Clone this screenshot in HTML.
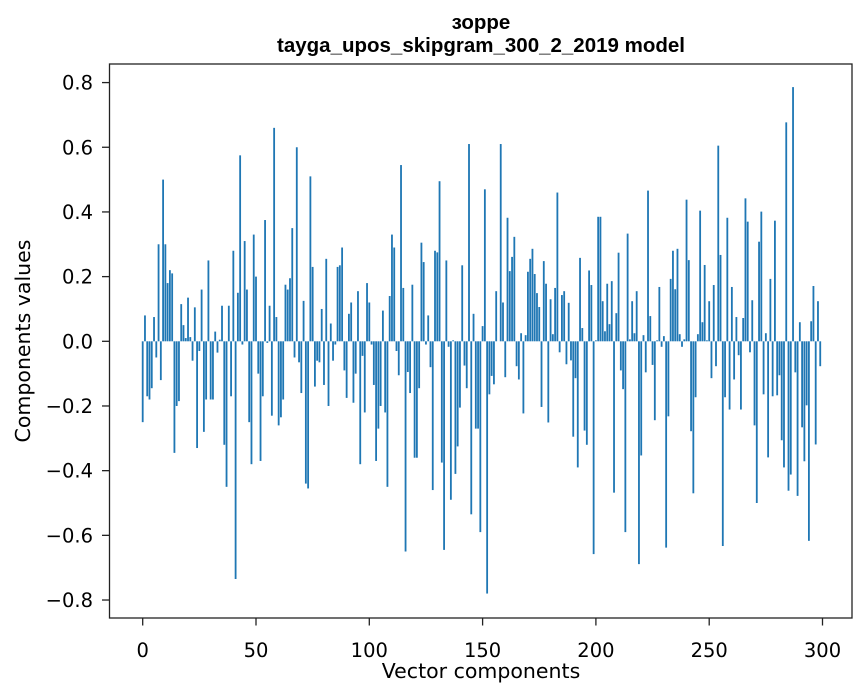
<!DOCTYPE html>
<html><head><meta charset="utf-8"><style>
html,body{margin:0;padding:0;background:#fff;}
svg{display:block;}
</style></head><body>
<svg id="chart" width="867" height="696" viewBox="0 0 867 696" xmlns="http://www.w3.org/2000/svg">
<rect x="0" y="0" width="867" height="696" fill="#fff"/>
<text x="481" y="29" text-anchor="middle" font-family="Liberation Sans, sans-serif" font-weight="bold" font-size="20.5" fill="#000">зорре</text>
<text x="481" y="52" text-anchor="middle" font-family="Liberation Sans, sans-serif" font-weight="bold" font-size="20.5" fill="#000">tayga_upos_skipgram_300_2_2019 model</text>
<g id="bars"></g>
<g id="yticks"></g>
<g id="xticks"></g>
<rect x="109.5" y="64" width="742.5" height="554" fill="none" stroke="#222" stroke-width="1.3"/>
<text x="481" y="678" text-anchor="middle" font-family="DejaVu Sans, sans-serif" font-size="20.5" fill="#000">Vector components</text>
<text transform="translate(30,341) rotate(-90)" text-anchor="middle" font-family="DejaVu Sans, sans-serif" font-size="20.5" fill="#000">Components values</text>
</svg>
<script>
const values = [
-0.25,0.08,-0.17,-0.18,-0.145,0.075,-0.05,0.30,-0.12,0.50,
0.30,0.18,0.22,0.21,-0.345,-0.20,-0.185,0.115,0.05,0.01,
0.135,0.013,-0.06,0.105,-0.33,-0.03,0.16,-0.28,-0.18,0.25,
-0.18,-0.18,0.03,-0.035,0.005,0.11,-0.32,-0.45,0.11,-0.17,
0.28,-0.735,0.15,0.575,-0.01,0.31,0.16,-0.25,-0.38,0.33,
0.20,-0.10,-0.37,-0.17,0.375,-0.005,0.11,-0.23,0.66,0.075,
-0.26,-0.235,-0.18,0.175,0.16,0.195,0.35,-0.05,0.60,-0.065,
-0.16,0.125,-0.44,-0.455,0.51,0.23,-0.14,-0.06,-0.065,0.10,
-0.135,0.255,-0.20,0.055,-0.06,-0.01,0.23,0.235,0.29,-0.09,
-0.175,0.085,0.12,-0.19,-0.10,0.155,-0.38,-0.045,-0.22,0.18,
0.12,-0.01,-0.135,-0.37,-0.27,-0.20,0.095,-0.22,-0.45,0.14,
0.33,0.29,-0.03,-0.105,0.545,0.165,-0.65,-0.095,-0.16,0.175,
-0.36,-0.36,-0.145,0.305,0.245,-0.01,0.08,-0.08,-0.46,0.28,
0.275,0.495,-0.375,-0.645,0.25,-0.017,-0.49,0.003,-0.41,-0.325,
-0.205,0.235,-0.075,-0.145,0.61,-0.535,0.085,-0.27,-0.27,-0.59,
0.047,0.47,-0.78,-0.164,-0.107,-0.133,0.155,0.0,0.61,0.12,
-0.111,0.382,0.217,0.261,0.323,-0.077,-0.118,0.025,-0.223,0.019,
0.215,0.255,0.286,0.208,0.149,0.106,-0.203,0.248,0.178,-0.251,
0.13,0.022,0.165,0.46,-0.034,0.143,0.155,-0.071,0.119,-0.059,
-0.295,-0.114,-0.39,0.258,0.041,-0.276,-0.32,0.219,0.174,-0.658,
0.003,0.385,0.385,0.124,0.031,0.178,0.053,0.186,-0.468,0.087,
0.274,-0.09,-0.148,-0.59,0.333,0.006,0.124,0.025,0.155,-0.689,
-0.353,0.019,-0.096,0.466,0.078,-0.073,-0.244,0.003,0.168,-0.017,
0.016,-0.638,-0.232,0.193,0.28,0.161,0.286,0.022,-0.017,0.006,
0.438,0.251,-0.278,-0.47,-0.173,0.022,0.404,0.059,0.236,0.003,
0.124,-0.114,0.174,-0.077,0.605,0.267,-0.633,-0.173,0.382,-0.211,
0.168,-0.118,0.075,-0.043,-0.211,0.072,0.442,0.37,-0.034,0.127,
-0.26,-0.5,0.308,0.401,-0.164,0.025,-0.359,0.193,-0.17,0.373,
-0.167,-0.105,-0.306,-0.39,0.677,-0.462,-0.412,0.786,-0.096,-0.478,
0.059,-0.266,-0.371,-0.198,-0.617,0.062,0.171,-0.319,0.124,-0.077
];
const xTickValues = [0,50,100,150,200,250,300];
const yTickValues = [-0.8,-0.6,-0.4,-0.2,0.0,0.2,0.4,0.6,0.8];
const yTickLabels = ["\u22120.8","\u22120.6","\u22120.4","\u22120.2","0.0","0.2","0.4","0.6","0.8"];

const NS = "http://www.w3.org/2000/svg";
function xScale(i){ return 142.7 + i * 2.266; }
function yScale(v){ return 341.3 - v * 323.4; }
const barW = 0.8 * 2.266;

const barsG = document.getElementById('bars');
values.forEach(function(v, i){
  const r = document.createElementNS(NS, 'rect');
  const y0 = yScale(0), y1 = yScale(v);
  r.setAttribute('x', xScale(i) - barW/2);
  r.setAttribute('y', Math.min(y0, y1));
  r.setAttribute('width', barW);
  r.setAttribute('height', Math.max(Math.abs(y1 - y0), 0.01));
  r.setAttribute('fill', '#1f77b4');
  
  
  barsG.appendChild(r);
});

const yG = document.getElementById('yticks');
yTickValues.forEach(function(v, k){
  const y = yScale(v);
  const l = document.createElementNS(NS, 'line');
  l.setAttribute('x1', 102); l.setAttribute('x2', 109.5);
  l.setAttribute('y1', y); l.setAttribute('y2', y);
  l.setAttribute('stroke', '#222'); l.setAttribute('stroke-width', 1.3);
  
  
  yG.appendChild(l);
  const t = document.createElementNS(NS, 'text');
  t.setAttribute('x', 93); t.setAttribute('y', y + 7);
  t.setAttribute('text-anchor', 'end');
  t.setAttribute('font-family', 'DejaVu Sans, sans-serif');
  t.setAttribute('font-size', '19.5');
  t.textContent = yTickLabels[k];
  
  
  yG.appendChild(t);
});

const xG = document.getElementById('xticks');
xTickValues.forEach(function(v){
  const x = xScale(v);
  const l = document.createElementNS(NS, 'line');
  l.setAttribute('x1', x); l.setAttribute('x2', x);
  l.setAttribute('y1', 618); l.setAttribute('y2', 625.5);
  l.setAttribute('stroke', '#222'); l.setAttribute('stroke-width', 1.3);
  
  
  xG.appendChild(l);
  const t = document.createElementNS(NS, 'text');
  t.setAttribute('x', x); t.setAttribute('y', 657);
  t.setAttribute('text-anchor', 'middle');
  t.setAttribute('font-family', 'DejaVu Sans, sans-serif');
  t.setAttribute('font-size', '19.5');
  t.textContent = String(v);
  
  
  xG.appendChild(t);
});
</script>
</body></html>
